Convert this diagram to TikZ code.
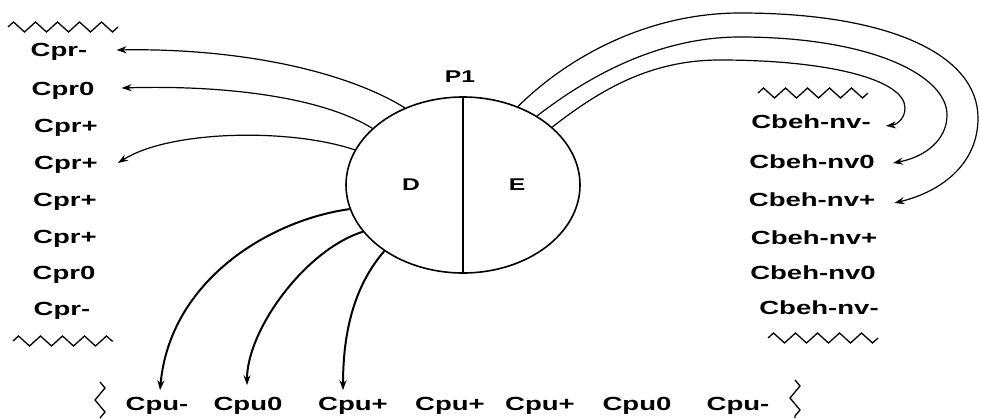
\documentclass[tikz,border=0pt]{standalone}
\usepackage{fontspec}
\setmainfont{Liberation Sans}[FakeStretch=1.45]
\usetikzlibrary{arrows.meta, shapes.geometric, decorations.pathmorphing}

\begin{document}
\begin{tikzpicture}[
    x=1pt, y=-1pt,
    >=Stealth,
    tag/.style={inner sep=0pt, font=\bfseries\fontsize{19}{22}\selectfont},
    part/.style={inner sep=0pt, font=\bfseries\fontsize{17}{20}\selectfont},
    arrow/.style={-{Stealth[length=10pt, width=7pt]}, line width=1.2pt},
    fat/.style={arrow, line width=2pt},
    wave/.style={decorate, decoration={zigzag, segment length=22pt, amplitude=5pt}, line width=1.3pt}
]
\useasboundingbox (0,0) rectangle (981,418);

% Proceso P1 con sus dos mitades
\node[ellipse, draw, line width=1.6pt, minimum width=234pt, minimum height=176pt, inner sep=0pt] (p1) at (463,185) {};
\draw[line width=2.6pt] (p1.north) -- (p1.south);
\node[part] (p1name) at (460,77) {P1};
\node[part] (d) at (411,185) {D};
\node[part] (e) at (517,185) {E};

% Columna izquierda
\node[tag] (cprA) at (59,52) {Cpr-};
\node[tag] (cprB) at (63,90.5) {Cpr0};
\node[tag] (cprC) at (66,128) {Cpr+};
\node[tag] (cprD) at (66,165) {Cpr+};
\node[tag] (cprE) at (65,202) {Cpr+};
\node[tag] (cprF) at (65,239) {Cpr+};
\node[tag] (cprG) at (64,275) {Cpr0};
\node[tag] (cprH) at (62,311) {Cpr-};
\draw[wave] (8,27) -- (118,27);
\draw[wave] (13,341) -- (113,341);

% Columna derecha
\node[tag] (cbA) at (811,122) {Cbeh-nv-};
\node[tag] (cbB) at (812,161.5) {Cbeh-nv0};
\node[tag] (cbC) at (812,200) {Cbeh-nv+};
\node[tag] (cbD) at (814,238) {Cbeh-nv+};
\node[tag] (cbE) at (813,273) {Cbeh-nv0};
\node[tag] (cbF) at (819,308) {Cbeh-nv-};
\draw[wave] (758,93) -- (868,93);
\draw[wave] (768,338) -- (878,338);

% Fila inferior
\node[tag] (cpuA) at (157,406) {Cpu-};
\node[tag] (cpuB) at (248,406) {Cpu0};
\node[tag] (cpuC) at (353,406) {Cpu+};
\node[tag] (cpuD) at (450,406) {Cpu+};
\node[tag] (cpuE) at (540,406) {Cpu+};
\node[tag] (cpuF) at (637,406) {Cpu0};
\node[tag] (cpuG) at (738,406) {Cpu-};
\draw[wave, decoration={segment length=24pt, amplitude=5pt}] (100,382) -- (100,418);
\draw[wave, decoration={segment length=24pt, amplitude=5pt}] (795,380) -- (795,418);

% Flechas desde D
\draw[arrow] (p1.127) .. controls (340,68) and (230,48) .. ([xshift=29pt, yshift=2pt]cprA.east);
\draw[arrow] (p1.148) .. controls (320,96) and (220,85) .. ([xshift=27pt, yshift=2.5pt]cprB.east);
\draw[arrow] (p1.162) .. controls (290,128) and (170,130) .. ([xshift=20pt, yshift=2pt]cprD.east);
\draw[fat] (p1.192) .. controls (270,220) and (170,280) .. ([xshift=3pt, yshift=7pt]cpuA.north);
\draw[fat] (p1.205) .. controls (305,250) and (247,330) .. ([xshift=-1pt, yshift=12pt]cpuB.north);
\draw[fat] (p1.220) .. controls (355,285) and (343,330) .. ([xshift=-10pt, yshift=7pt]cpuC.north);

% Flechas desde E
\draw[arrow] (p1.55) .. controls (570,55) and (650,13) .. (740,13)
    .. controls (890,13) and (978,55) .. (978,118)
    .. controls (978,165) and (940,192) .. ([xshift=19pt, yshift=-3pt]cbC.east);
\draw[arrow] (p1.43) .. controls (590,75) and (660,37) .. (740,37)
    .. controls (870,37) and (947,75) .. (947,115)
    .. controls (947,140) and (925,157) .. ([xshift=18pt, yshift=-1.5pt]cbB.east);
\draw[arrow] (p1.33) .. controls (600,90) and (650,60) .. (720,60)
    .. controls (830,60) and (905,80) .. (905,108)
    .. controls (905,120) and (895,125) .. ([xshift=15pt, yshift=-4pt]cbA.east);

\end{tikzpicture}
\end{document}
